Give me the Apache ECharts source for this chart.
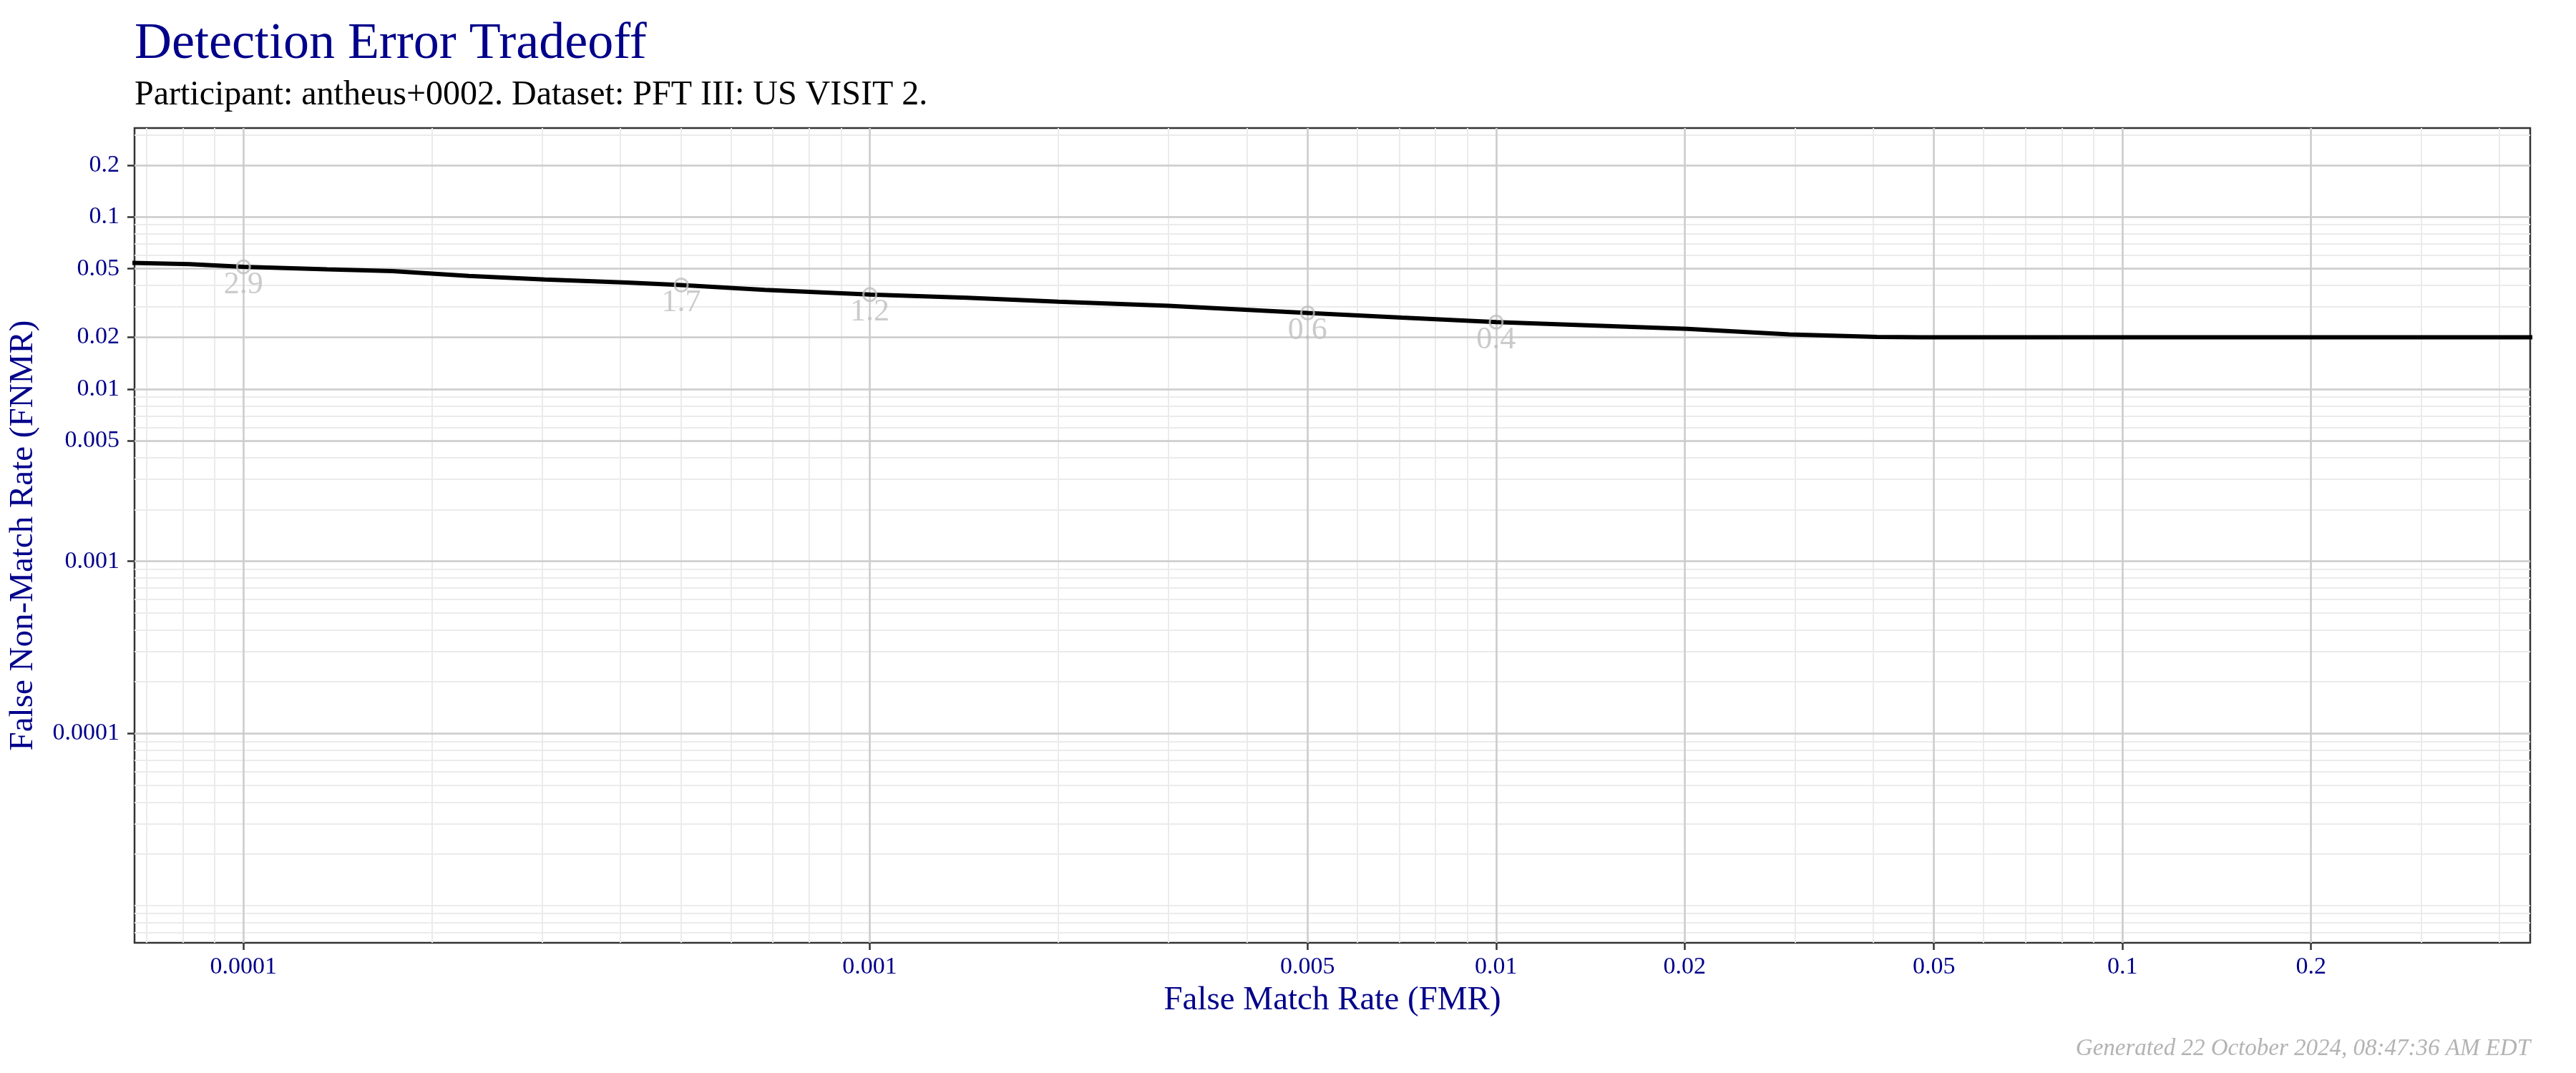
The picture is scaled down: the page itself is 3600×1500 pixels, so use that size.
<!DOCTYPE html>
<html>
<head>
<meta charset="utf-8">
<script src="https://cdn.jsdelivr.net/npm/echarts@6/dist/echarts.min.js"></script>
<style>html,body{margin:0;padding:0;background:#fff}#c{width:3600px;height:1500px}</style>
</head>
<body>
<div id="c"></div>
<script>
// ---- data ----
const fmr  = [0.00006, 0.000082, 0.0001, 0.000136, 0.000173, 0.000229, 0.000303, 0.00041, 0.0005, 0.00068, 0.001, 0.00143, 0.002, 0.003, 0.005, 0.00707, 0.01, 0.0202, 0.0294, 0.0405, 0.0476, 0.1, 0.2, 0.5];
const fnmr = [0.0545, 0.0532, 0.0513, 0.0496, 0.0484, 0.0454, 0.0433, 0.0416, 0.0402, 0.0377, 0.0354, 0.0339, 0.0322, 0.0305, 0.0277, 0.0260, 0.0245, 0.0224, 0.0208, 0.0201, 0.0200, 0.0200, 0.0200, 0.0200];

const pointFmr    = [0.0001, 0.0005, 0.001, 0.005, 0.01];
const pointFnmr   = [0.0513, 0.0402, 0.0354, 0.0277, 0.0245];
const pointLabels = ['2.9', '1.7', '1.2', '0.6', '0.4'];

const xTicks      = [0.0001, 0.001, 0.005, 0.01, 0.02, 0.05, 0.1, 0.2];
const xTickLabels = ['0.0001', '0.001', '0.005', '0.01', '0.02', '0.05', '0.1', '0.2'];
const yTicks      = [0.0001, 0.001, 0.005, 0.01, 0.02, 0.05, 0.1, 0.2];
const yTickLabels = ['0.0001', '0.001', '0.005', '0.01', '0.02', '0.05', '0.1', '0.2'];

const xRange = [6.7e-5, 0.4477];
const yRange = [6.095e-6, 0.3281];

const titleText    = 'Detection Error Tradeoff';
const subtitleText = 'Participant: antheus+0002. Dataset: PFT III: US VISIT 2.';
const xName  = 'False Match Rate (FMR)';
const yName  = 'False Non-Match Rate (FNMR)';
const footer = 'Generated 22 October 2024, 08:47:36 AM EDT';

// minor grid positions (1..9 x 10^n)
function minorGrid(lo, hi) {
  const out = [];
  for (let n = -7; n <= 1; n++) {
    for (let k = 1; k <= 9; k++) {
      const v = Number((k * Math.pow(10, n)).toPrecision(3));
      if (v >= lo && v <= hi) out.push(v);
    }
  }
  return out;
}
const xMinor = minorGrid(xRange[0], xRange[1]);
const yMinor = minorGrid(yRange[0], yRange[1]);

function labelFor(ticks, labels) {
  return function (v) {
    for (let i = 0; i < ticks.length; i++) {
      if (Math.abs(Math.log10(v) - Math.log10(ticks[i])) < 1e-6) return labels[i];
    }
    return '';
  };
}

const FONT = 'Liberation Serif';
const BLUE = '#00008B';
const GRID = { left: 188, top: 179, right: 64, bottom: 182 };

const chart = echarts.init(document.getElementById('c'), null, { renderer: 'canvas' });

chart.setOption({
  backgroundColor: '#ffffff',
  animation: false,
  title: [
    { text: titleText, left: 188, top: 26, padding: 0,
      textStyle: { fontFamily: FONT, fontSize: 72, fontWeight: 'normal', color: BLUE } },
    { text: subtitleText, left: 188, top: 109, padding: 0,
      textStyle: { fontFamily: FONT, fontSize: 48, fontWeight: 'normal', color: '#000000' } },
    { text: footer, right: 64, top: 1450, padding: 0,
      textStyle: { fontFamily: FONT, fontSize: 33, fontWeight: 'normal', fontStyle: 'italic', color: '#B3B3B3' } }
  ],
  grid: Object.assign({ show: true, borderColor: '#333333', borderWidth: 2.5, backgroundColor: '#ffffff', outerBoundsMode: 'none', containLabel: false }, GRID),
  xAxis: [
    {
      type: 'log', logBase: 10, min: xRange[0], max: xRange[1], position: 'bottom', z: 2,
      name: xName, nameLocation: 'middle', nameGap: 57,
      nameTextStyle: { fontFamily: FONT, fontSize: 47, color: BLUE },
      axisLine: { show: false },
      axisTick: { show: true, customValues: xTicks, length: 10, lineStyle: { color: '#333333', width: 2.5 } },
      axisLabel: { show: true, customValues: xTicks, margin: 17, formatter: labelFor(xTicks, xTickLabels),
        fontFamily: FONT, fontSize: 34, color: BLUE, hideOverlap: false },
      splitLine: { show: true, lineStyle: { color: '#CCCCCC', width: 2.5 } },
      minorTick: { show: false }, minorSplitLine: { show: false }
    },
    {
      type: 'log', logBase: 10, min: xRange[0], max: xRange[1], position: 'bottom', z: 1,
      axisLine: { show: false },
      axisTick: { show: false, customValues: xMinor },
      axisLabel: { show: false },
      splitLine: { show: true, lineStyle: { color: '#EBEBEB', width: 2 } }
    }
  ],
  yAxis: [
    {
      type: 'log', logBase: 10, min: yRange[0], max: yRange[1], position: 'left', z: 2,
      name: yName, nameLocation: 'middle', nameGap: 132, nameRotate: 90,
      nameTextStyle: { fontFamily: FONT, fontSize: 47, color: BLUE },
      axisLine: { show: false },
      axisTick: { show: true, customValues: yTicks, length: 10, lineStyle: { color: '#333333', width: 2.5 } },
      axisLabel: { show: true, customValues: yTicks, margin: 21, formatter: labelFor(yTicks, yTickLabels),
        fontFamily: FONT, fontSize: 34, color: BLUE, hideOverlap: false },
      splitLine: { show: true, lineStyle: { color: '#CCCCCC', width: 2.5 } },
      minorTick: { show: false }, minorSplitLine: { show: false }
    },
    {
      type: 'log', logBase: 10, min: yRange[0], max: yRange[1], position: 'left', z: 1,
      axisLine: { show: false },
      axisTick: { show: false, customValues: yMinor },
      axisLabel: { show: false },
      splitLine: { show: true, lineStyle: { color: '#EBEBEB', width: 2 } }
    }
  ],
  series: [
    {
      type: 'line', xAxisIndex: 0, yAxisIndex: 0, z: 3,
      data: fmr.map((x, i) => [x, fnmr[i]]),
      showSymbol: false, symbol: 'none', smooth: false, clip: true,
      lineStyle: { color: '#000000', width: 6 },
      silent: true
    },
    {
      type: 'scatter', xAxisIndex: 0, yAxisIndex: 0, z: 4,
      data: pointFmr.map((x, i) => ({ value: [x, pointFnmr[i]], name: pointLabels[i] })),
      symbol: 'circle', symbolSize: 18,
      itemStyle: { color: 'rgba(0,0,0,0)', borderColor: '#BEBEBE', borderWidth: 3 },
      label: { show: true, position: 'inside', offset: [0, 25], formatter: p => p.name,
        fontFamily: FONT, fontSize: 44, color: '#BEBEBE' },
      silent: true
    }
  ]
});
</script>
</body>
</html>
